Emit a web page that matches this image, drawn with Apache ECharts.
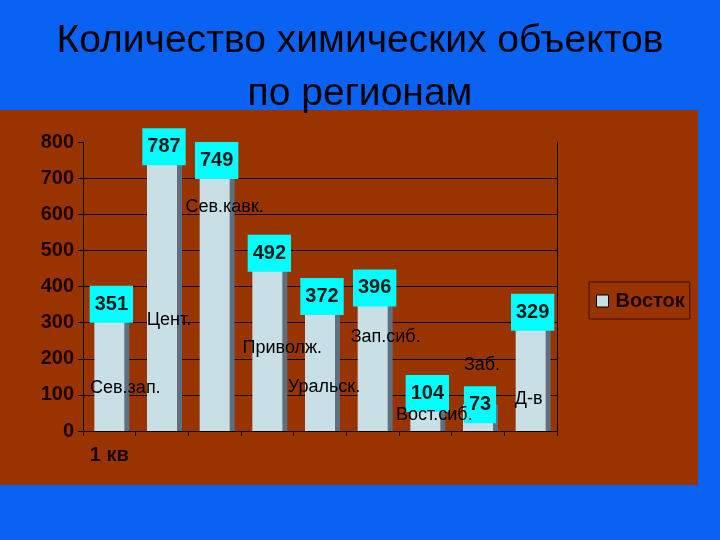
<!DOCTYPE html>
<html>
<head>
<meta charset="utf-8">
<script src="https://cdn.jsdelivr.net/npm/echarts@6/dist/echarts.min.js"></script>
<style>
  html, body { margin: 0; padding: 0; background: #0a62f2; }
  #main { width: 720px; height: 540px; }
</style>
</head>
<body>
<div id="main"></div>
<script>
// данные диаграммы
var regions = ["Сев.зап.", "Цент.", "Сев.кавк.", "Приволж.", "Уральск.", "Зап.сиб.", "Вост.сиб.", "Заб.", "Д-в"];
var counts = [351, 787, 749, 492, 372, 396, 104, 73, 329];
var quarterLabels = ["1 кв"];
var seriesName = "Восток";
var yTicks = [0, 100, 200, 300, 400, 500, 600, 700, 800];

// где стоят подписи регионов (высота в единицах оси и сдвиг по x) - разметка, не данные
var nameLabelY = [119, 307, 620, 230, 122, 260, 44, 183, 89];
var nameLabelDx = [16, 7, 10, 15, 4, 13, 9, 4, -2];

var chart = echarts.init(document.getElementById("main"));

var nameLabels = regions.map(function (r, i) {
    return {
        value: [i, nameLabelY[i]],
        label: { offset: [nameLabelDx[i], 0] }
    };
});

// сетка: 800 без линии
var gridColors = yTicks.map(function (t, i) {
    return i === yTicks.length - 1 ? "rgba(0,0,0,0)" : "#000";
});

var option = {
    backgroundColor: "#0a62f2",
    title: {
        text: "Количество химических объектов\nпо регионам",
        left: "center",
        top: 10,
        textStyle: {
            fontFamily: "Liberation Sans, Arial",
            fontWeight: "normal",
            fontSize: 39,
            lineHeight: 53,
            color: "#000"
        }
    },
    graphic: [
        {
            type: "rect",
            z: -10,
            shape: { x: 0, y: 110, width: 698, height: 375 },
            style: { fill: "#993300" }
        }
    ],
    legend: {
        data: [seriesName],
        left: 589,
        top: 282,
        orient: "vertical",
        padding: [9, 5, 8, 7],
        itemGap: 0,
        itemWidth: 12,
        itemHeight: 12,
        borderColor: "#3a0f00",
        borderWidth: 1,
        icon: "rect",
        itemStyle: { borderColor: "#000", borderWidth: 1 },
        textStyle: {
            fontFamily: "Liberation Sans, Arial",
            fontWeight: "bold",
            fontSize: 20,
            color: "#1a0500",
            padding: [0, 0, 0, 2]
        }
    },
    grid: { left: 83, right: 163, top: 142, bottom: 109 },
    xAxis: {
        type: "category",
        data: regions,
        axisLine: { show: true, lineStyle: { color: "#000", width: 1 } },
        axisTick: { show: true, length: 5, lineStyle: { color: "#000" } },
        axisLabel: {
            interval: 0,
            margin: 14,
            fontFamily: "Liberation Sans, Arial",
            fontWeight: "bold",
            fontSize: 20,
            color: "#1a0500",
            formatter: function (v, i) { return i === 0 ? quarterLabels[0] : ""; }
        }
    },
    yAxis: [
        {
            type: "value",
            min: 0,
            max: 800,
            interval: 100,
            axisLine: { show: true, lineStyle: { color: "#000" } },
            axisTick: { show: true, length: 5, lineStyle: { color: "#000" } },
            splitLine: { show: true, lineStyle: { color: gridColors, width: 1 } },
            axisLabel: {
                margin: 9,
                fontFamily: "Liberation Sans, Arial",
                fontWeight: "bold",
                fontSize: 20,
                color: "#1a0500"
            }
        },
        {
            type: "value",
            min: 0,
            max: 800,
            interval: 100,
            position: "right",
            axisLine: { show: true, lineStyle: { color: "#000" } },
            axisTick: { show: false },
            axisLabel: { show: false },
            splitLine: { show: false }
        }
    ],
    series: [
        {
            name: seriesName,
            type: "bar",
            data: counts,
            barWidth: 30,
            itemStyle: {
                color: "#c8dfe5",
                shadowColor: "#5f6f80",
                shadowOffsetX: 5,
                shadowOffsetY: 0,
                shadowBlur: 0
            },
            label: {
                show: true,
                position: ["50%", 0],
                offset: [2, 0],
                align: "center",
                verticalAlign: "middle",
                backgroundColor: "#00ffff",
                padding: [9, 5, 8, 5],
                fontFamily: "Liberation Sans, Arial",
                fontWeight: "bold",
                fontSize: 20,
                color: "#0a1a1a"
            },
            z: 2
        },
        {
            name: "regionNames",
            type: "scatter",
            data: nameLabels,
            symbolSize: 1,
            itemStyle: { color: "rgba(0,0,0,0)", opacity: 1 },
            label: {
                show: true,
                position: "inside",
                opacity: 1,
                fontFamily: "Liberation Sans, Arial",
                fontSize: 18,
                color: "#000",
                textBorderWidth: 0,
                formatter: function (p) { return regions[p.dataIndex]; }
            },
            z: 5
        }
    ]
};

chart.setOption(option);
</script>
</body>
</html>
